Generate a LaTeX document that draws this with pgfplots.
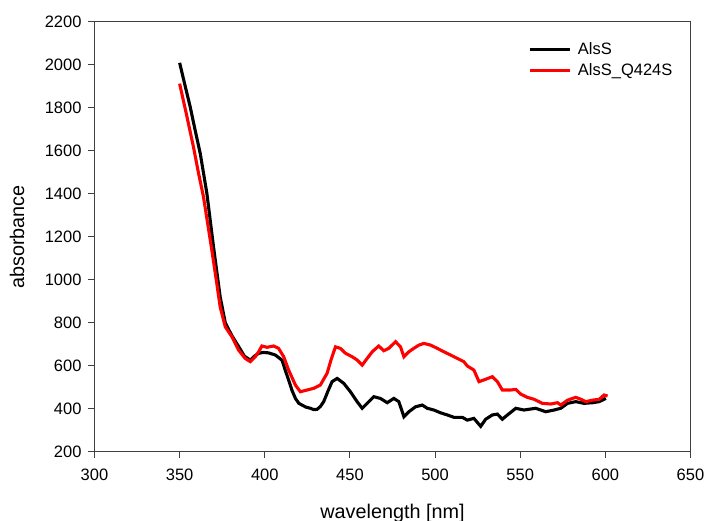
\documentclass[border=0pt]{standalone}
\usepackage{pgfplots}
\pgfplotsset{compat=1.18}
\usepackage{fontspec}
\setmainfont{Liberation Sans}
\begin{document}
\begin{tikzpicture}
\begin{axis}[
  scale only axis,
  width=596pt, height=429.7pt,
  xmin=300, xmax=650, ymin=200, ymax=2200,
  xtick={300,350,...,650},
  ytick={200,400,...,2200},
  tick pos=left,
  tick align=outside,
  major tick length=6pt,
  /pgf/number format/assume math mode=true,
  /pgf/number format/1000 sep={},
  ticklabel style={font=\fontsize{16.5}{19}\selectfont},
  xticklabel style={yshift=-8pt},
  yticklabel style={xshift=-3.5pt},
  axis line style={line width=1pt, black!75},
  tick style={line width=1pt, black!75},
  xlabel={wavelength [nm]},
  ylabel={absorbance},
  xlabel style={font=\fontsize{19.8}{23}\selectfont, at={(axis description cs:0.5,-0.156)}, anchor=base},
  ylabel style={font=\fontsize{19.8}{23}\selectfont, at={(axis description cs:-0.130,0.5)}, anchor=center, rotate=0},
  legend cell align=left,
  legend style={draw=none, fill=none, at={(axis description cs:0.7234,0.962)}, anchor=north west,
    font=\fontsize{16.5}{19}\selectfont, row sep=3.5pt,
    /tikz/every odd column/.append style={column sep=4pt}},
  legend image code/.code={\draw[#1] (0pt,0pt) -- (40pt,0pt);},
]
\addplot[black, line width=3.1pt] coordinates {
(350,2010) (353,1910) (356.2,1805) (359,1700) (362.1,1588) (366,1402) (369.9,1153)
(373.8,921) (376.8,800) (380.7,740) (384.6,690) (388,645) (391.5,626) (394,645)
(396.4,658) (399,662) (402.2,660) (406.2,650) (410.1,626) (412,580) (414,533)
(416,485) (418,448) (420,425) (421.9,417) (424,408) (426.8,402) (428.7,396)
(430.7,397) (432.6,410) (434.6,433) (437,480) (439.5,526) (442.5,541) (446.4,518)
(450.3,479) (454.2,433) (457.2,402) (460.1,425) (464,456) (467.9,448) (471.9,428)
(475.8,448) (478.7,433) (481.7,363) (484.6,386) (488.5,409) (492.5,417) (495.4,402)
(499.3,394) (503.2,381) (507.2,371) (511.1,360) (516,360) (518.9,347) (522.8,355)
(526.8,318) (529.7,351) (533.6,371) (536.6,375) (539.5,351) (542.5,371) (547.4,402)
(552.2,394) (559.1,402) (565,386) (569.9,394) (573.8,402) (577.8,425) (582.6,433)
(587.5,425) (592.5,428) (596.4,433) (600.3,448)
};
\addlegendentry{AlsS}
\addplot[red, line width=3.1pt] coordinates {
(350,1913) (354,1770) (358.1,1619) (361,1500) (364,1386) (366.5,1260) (368.9,1138)
(371.5,1000) (373.8,874) (376.8,781) (380.7,735) (384.6,673) (388.5,634) (391.5,619)
(394.4,642) (396.4,665) (398.3,692) (401.3,686) (405.2,692) (408.1,681) (411.1,642)
(414,580) (418,510) (420.9,479) (424.8,487) (428.7,495) (432.6,510) (436.6,565)
(439,630) (441.5,688) (444.4,681) (447.4,658) (451.3,642) (454.2,627) (457.2,603)
(460.1,634) (463.1,665) (466.9,692) (469.9,670) (472.8,681) (476.8,712) (479.7,688)
(481.7,642) (484.6,665) (487.5,681) (490.5,696) (493.4,704) (497.4,696) (501.3,681)
(505.2,665) (509.1,650) (513.1,634) (516.9,619) (518.9,599) (522.8,580) (525.8,526)
(529.7,537) (533.6,549) (536.6,526) (539.5,487) (544.4,487) (547.4,490) (550.3,468)
(554.2,453) (558.1,444) (563,425) (567.9,422) (571.9,428) (573.8,417) (577.8,440)
(582.6,453) (585.6,444) (588.5,433) (592.5,440) (596.4,444) (599.3,464) (601.3,459)
};
\addlegendentry{AlsS\_Q424S}
\coordinate (sw) at (rel axis cs:0,0);
\coordinate (ne) at (rel axis cs:1,1);
\end{axis}
\pgfresetboundingbox
\path[use as bounding box] ([shift={(-94.5pt,-69.3pt)}]sw) rectangle ([shift={(16.5pt,22pt)}]ne);
\end{tikzpicture}
\end{document}
